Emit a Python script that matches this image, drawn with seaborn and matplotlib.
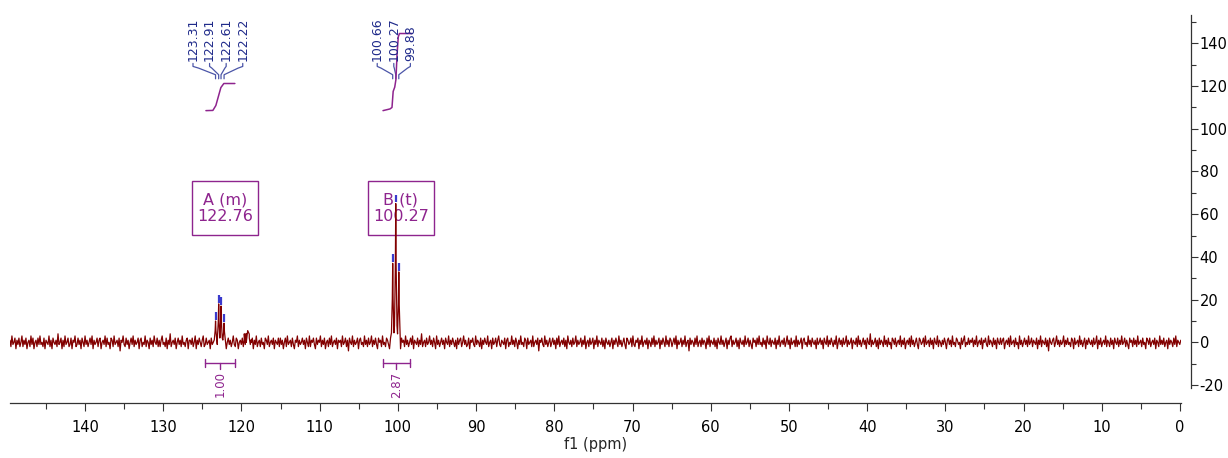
import numpy as np
import pandas as pd
import matplotlib
matplotlib.use("Agg")
import matplotlib.pyplot as plt
import matplotlib.patches as mpatches
from matplotlib.ticker import MultipleLocator, FixedLocator
import seaborn as sns

# ---------------- data ----------------
peak_ppm = [123.31, 122.91, 122.61, 122.22, 100.66, 100.27, 99.88]
peak_height = [10, 18, 17, 9, 37, 65, 33]
peak_group = [0, 0, 0, 0, 1, 1, 1]

other_ppm = [119.2]          # small unlabelled bump
other_height = [5.5]

mult_names = ["A (m)", "B (t)"]
mult_shift = [122.76, 100.27]

integral_start = [124.66, 101.90]
integral_end = [120.80, 98.45]
integral_value = [1.00, 2.87]

intA_ppm = [124.54, 123.65, 123.27, 122.63, 122.25, 120.84]
intA_val = [108.5, 108.6, 110.9, 119.3, 121.2, 121.2]
intB_ppm = [101.90, 101.00, 100.75, 100.60, 100.40, 100.25, 100.10, 99.95, 99.80, 98.20]
intB_val = [108.5, 109.3, 110.0, 117.5, 119.5, 123.0, 135.0, 143.0, 144.6, 144.6]

# baseline noise (estimated, ppm 149.6 -> 0, one value per pixel column)
noise_vals = [
 1,-2,3,-1,0,2,-3,1,-1,2,-2,0,3,-2,1,-1,2,-3,0,1,-2,3,-1,2,-3,0,1,-2,2,-1,
 3,-1,0,-2,2,-3,1,0,-1,3,-2,1,-3,2,0,-1,1,-2,4,-1,0,2,-3,1,-2,3,-1,0,2,-2,
 -1,2,-3,1,0,3,-2,-1,2,-1,1,-3,2,0,-2,3,-1,1,-2,0,2,-1,3,-3,1,-1,0,2,-2,1,
 2,-3,0,1,-1,3,-2,2,-1,0,-3,2,1,-2,3,-1,0,1,-2,2,-4,1,0,3,-1,-2,2,-1,1,-3,
 0,2,-1,3,-2,1,-1,0,2,-3,1,2,-2,0,-1,3,-2,1,0,-3,2,-1,1,-2,3,0,-1,2,-2,1,
 -2,1,3,-1,0,-2,2,-3,1,-1,4,-2,0,1,-1,2,-3,0,2,-1,1,-2,3,-1,0,-2,1,2,-3,1,
 1,-1,2,-2,0,3,-3,1,-1,2,0,-2,1,3,-2,-1,2,-1,0,1,-3,2,-1,0,2,-2,3,-1,1,-2,
 3,-2,0,1,-1,2,-3,0,2,-1,1,-2,0,3,-1,-2,2,1,-3,0,1,-1,2,-2,4,-1,0,-2,1,2,
 -1,0,2,-3,1,-1,3,-2,0,1,-2,2,-1,0,-3,2,1,-1,3,-2,0,1,-1,2,-3,1,0,-1,2,-2,
 2,-1,1,-3,0,2,-2,3,-1,0,1,-2,2,-1,-3,1,0,3,-2,1,-1,0,2,-1,1,-3,2,0,-2,3,
 -2,1,0,2,-1,-3,2,-1,1,0,3,-2,1,-1,2,-3,0,1,-2,2,-1,3,-2,0,1,-1,2,-3,1,0,
 1,-2,3,-1,0,2,-2,1,-4,2,0,-1,3,-2,1,-1,0,2,-3,1,2,-1,0,-2,3,-1,1,-2,2,-1,
 0,3,-2,1,-1,2,-1,-3,2,0,1,-2,3,-1,0,-2,2,1,-1,-3,2,0,1,-1,3,-2,0,2,-1,1,
 -3,2,0,1,-2,3,-1,1,-2,0,2,-1,3,-3,1,0,-1,2,-2,1,-1,4,-2,0,1,-2,2,-1,0,3,
 -1,1,-2,2,0,-3,3,-1,1,-2,0,2,-1,1,-3,2,0,-1,3,-2,1,-1,2,0,-2,1,-3,2,-1,1,
 2,-2,0,3,-1,1,-2,-1,2,-3,1,0,2,-1,-2,3,-1,1,0,-2,2,-3,1,-1,2,0,-1,3,-2,0,
 1,-3,2,-1,0,2,-2,1,3,-1,-2,1,0,-1,2,-3,1,2,-2,0,-1,3,-1,1,-2,2,0,-3,1,-1,
 3,-1,0,-2,2,1,-3,2,-1,0,1,-2,3,-2,0,1,-1,2,-4,1,0,2,-1,-2,3,-1,1,-2,0,2,
 -2,0,2,-1,1,-3,2,-1,3,-2,0,1,-1,2,-2,1,-3,3,0,-1,1,-2,2,-1,0,3,-2,1,-1,0,
 2,-2,1,-1,3,-3,0,1,-2,2,-1,0,2,-3,1,-1,3,-2,1,0,-1,2,-2,1,-3,2,0,-1,1,-2,
 0,2,-3,1,-1,2,0,-2,3,-1,1,-2,0,2,-1,-3,2,1,-1,0,2,-2,3,-1,-2,1,0,2,-3,1,
 -1,3,-2,0,1,-1,2,-3,1,0,-2,2,-1,3,-2,1,-1,0,2,-3,1,-1,2,0,-2,3,-1,1,-2,2,
 1,-2,0,2,-1,3,-3,1,-1,0,2,-2,1,-1,3,-2,0,1,-4,2,-1,1,0,-2,2,-1,3,-2,0,1,
 -2,2,-1,1,0,-3,2,-1,3,-2,1,0,-1,2,-2,1,-3,2,0,-1,3,-1,1,-2,0,2,-3,1,-1,2,
 3,-2,1,-1,0,2,-2,1,-3,2,0,-1,1,-2,3,-1,0,2,-2,1,-1,-3,2,0,1,-2,2,-1,3,-1,
 0,-2,2,-1,1,-3,3,0,-1,2,-2,1,0,-1,2,-3,1,-1,3,-2,0,1,-1,2,-2,0,3,-1,1,-3,
 2,-1,0,1,-2,3,-2,1,-1,0,2,-3,1,2,-1,0,-2,3,-1,1,-2,2,0,-1,1,-3,2,-1,0,2,
 -1,1,-3,2,0,-1,3,-2,1,-1,2,0,-2,1,-1,3,-3,0,2,-1,1,-2,2,-1,0,3,-2,1,-1,0,
 2,-3,1,0,-1,2,-2,3,-1,1,-2,0,2,-1,1,-3,2,0,-1,4,-2,1,-1,0,2,-2,1,-3,2,-1,
 1,0,-2,3,-1,1,-2,2,-1,0,-3,2,1,-1,2,-2,0,1,-1,3,-2,1,-1,2,-3,0,1,-1,2,-2,
 3,-1,1,-2,0,2,-1,-3,2,1,-1,0,2,-2,3,-1,0,1,-2,2,-1,1,-3,2,0,-1,3,-2,1,0,
 -2,1,-1,2,0,-3,1,2,-1,1,-2,3,-1,0,-2,2,1,-1,0,-3,2,-1,1,3,-2,0,-1,2,-1,1,
 0,2,-2,1,-1,3,-2,0,1,-1,2,-3,1,0,2,-1,-2,3,-1,1,0,-2,2,-1,1,-3,2,0,-1,2,
 -1,1,2,-3,0,1,-1,2,-2,3,-1,0,1,-2,2,-1,0,-3,3,-1,1,-2,0,2,-1,1,-2,3,-1,0,
 2,-2,1,0,-1,2,-3,1,-1,3,-2,1,0,-1,2,-2,1,-4,2,0,-1,1,2,-2,0,3,-1,1,-2,1,
 -1,0,3,-2,1,-1,2,-1,0,-2,2,1,-3,2,-1,0,1,-2,3,-1,1,-2,0,2,-3,1,-1,2,0,-1,
 1,-2,2,-1,0,3,-3,1,-1,2,-2,0,1,-1,3,-2,1,0,-2,2,-1,1,-3,2,0,-1,2,-2,1,-1,
 3,-1,0,2,-2,1,-1,-3,2,0,1,-2,2,-1,1,-2,3,-1,0,1,-2,2,-1,0,-3,2,1,-1,2,-2,
 0,1,-1,2,-3,1,0,-2,3,-1,1,-1,2,-2,0,1,-3,2,-1,1,0,-2,2,-1,3,-2,1,0,-1,1,
]
noise_ppm = np.linspace(149.6, -0.1, len(noise_vals))

# ---------------- build spectrum table ----------------
pts = []
all_p = peak_ppm + other_ppm
for x, y in zip(noise_ppm, noise_vals):
    if all(abs(x - p) > 0.17 for p in all_p):
        pts.append((x, y))
for p, h in zip(peak_ppm, peak_height):
    pts += [(p + 0.16, 0.12 * h), (p + 0.05, 0.55 * h), (p, h),
            (p - 0.05, 0.55 * h), (p - 0.16, 0.12 * h)]
for p, h in zip(other_ppm, other_height):
    pts += [(p + 0.45, 1.0), (p + 0.2, 0.75 * h), (p, h),
            (p - 0.2, 0.7 * h), (p - 0.45, 1.2)]
spec = pd.DataFrame(pts, columns=["ppm", "intensity"]).sort_values("ppm", ascending=False)

# ---------------- style ----------------
sns.set_style("white")
plt.rcParams["font.family"] = ["DejaVu Sans"]
plt.rcParams["axes.unicode_minus"] = False

SPEC = "#820000"
NAVY = "#1F2A8A"
CONN = "#4B55A8"
MARK = "#3A3ACC"
PURP = "#8E248E"

W, H = 1228, 458
fig = plt.figure(figsize=(W / 100, H / 100), dpi=100)
ax = fig.add_axes([10 / W, 55 / H, (1181 - 10) / W, (458 - 55) / H])

sns.lineplot(data=spec, x="ppm", y="intensity", sort=False, estimator=None,
             color=SPEC, linewidth=0.9, ax=ax, zorder=2)

ax.set_xlim(149.59, -0.128)
ax.set_ylim(-28.4, 160.3)

# peak markers
for p, h in zip(peak_ppm, peak_height):
    ax.plot([p, p], [h + 0.6, h + 4.2], color=MARK, lw=1.6, solid_capstyle="butt", zorder=3)

# peak labels with connectors
spacing = 2.12
for g in sorted(set(peak_group)):
    ps = [p for p, gg in zip(peak_ppm, peak_group) if gg == g]
    n = len(ps)
    center = np.mean(ps) + 0.25
    for i, p in enumerate(ps):
        xl = center - (i - (n - 1) / 2) * spacing
        ax.text(xl, 131.7, f"{p:.2f}", rotation=90, ha="center", va="bottom",
                color=NAVY, fontsize=9)
        xb = xl + (p - xl) * 0.25
        ax.plot([xl, xl, xb, p, p], [130.6, 129.2, 128.4, 125.3, 123.4],
                color=CONN, lw=0.9)

# integral curves
ax.plot(intA_ppm, intA_val, color=PURP, lw=1.1)
ax.plot(intB_ppm, intB_val, color=PURP, lw=1.1)

# integral brackets
for s, e, v in zip(integral_start, integral_end, integral_value):
    m = (s + e) / 2
    ax.plot([s, e], [-9.55, -9.55], color=PURP, lw=1.0)
    ax.plot([s, s], [-7.6, -11.5], color=PURP, lw=1.0)
    ax.plot([e, e], [-7.6, -11.5], color=PURP, lw=1.0)
    ax.plot([m, m], [-9.55, -12.6], color=PURP, lw=1.0)
    ax.text(m, -13.6, f"{v:.2f}", rotation=90, ha="center", va="top",
            color=PURP, fontsize=8.5)

# multiplet boxes
pxx = 7.821
pxy = 2.1356
for name, sh in zip(mult_names, mult_shift):
    cx = sh - 5 / pxx
    cy = 62.9
    wdt = 66 / pxx
    hgt = 54 / pxy
    ax.add_patch(mpatches.Rectangle((cx - wdt / 2, cy - hgt / 2), wdt, hgt,
                                    fill=True, fc="white", ec=PURP, lw=1.0, zorder=1.5))
    ax.text(cx, cy, f"{name}\n{sh:.2f}", ha="center", va="center", color=PURP,
            fontsize=11.5, linespacing=1.15, zorder=1.6)

# axes styling
ax.spines["top"].set_visible(False)
ax.spines["left"].set_visible(False)
ax.spines["right"].set_position(("outward", 7))
ax.spines["right"].set_bounds(-21.4, 153.3)
for sp in ("right", "bottom"):
    ax.spines[sp].set_color("#333333")
    ax.spines[sp].set_linewidth(0.9)

ax.yaxis.tick_right()
yt = list(range(-20, 141, 20))
ax.yaxis.set_major_locator(FixedLocator(yt))
ax.yaxis.set_minor_locator(FixedLocator(list(range(-10, 151, 20))))
ax.xaxis.set_major_locator(MultipleLocator(10))
ax.xaxis.set_minor_locator(MultipleLocator(5))
ax.tick_params(axis="y", which="major", right=True, left=False, direction="out",
               length=5, width=0.8, labelsize=10.5, pad=1.5, colors="#333333",
               labelcolor="black")
ax.tick_params(axis="y", which="minor", right=True, left=False, direction="out",
               length=3.5, width=0.8, colors="#333333")
ax.tick_params(axis="x", which="major", bottom=True, direction="out", length=6,
               width=0.8, labelsize=10.5, pad=6, colors="#333333", labelcolor="black")
ax.tick_params(axis="x", which="minor", bottom=True, direction="out", length=4,
               width=0.8, colors="#333333")
ax.set_yticklabels([str(v) for v in yt])
ax.set_ylabel("")
ax.set_xlabel("f1 (ppm)", fontsize=10.5, labelpad=2)

fig.savefig("out.png", dpi=100)
